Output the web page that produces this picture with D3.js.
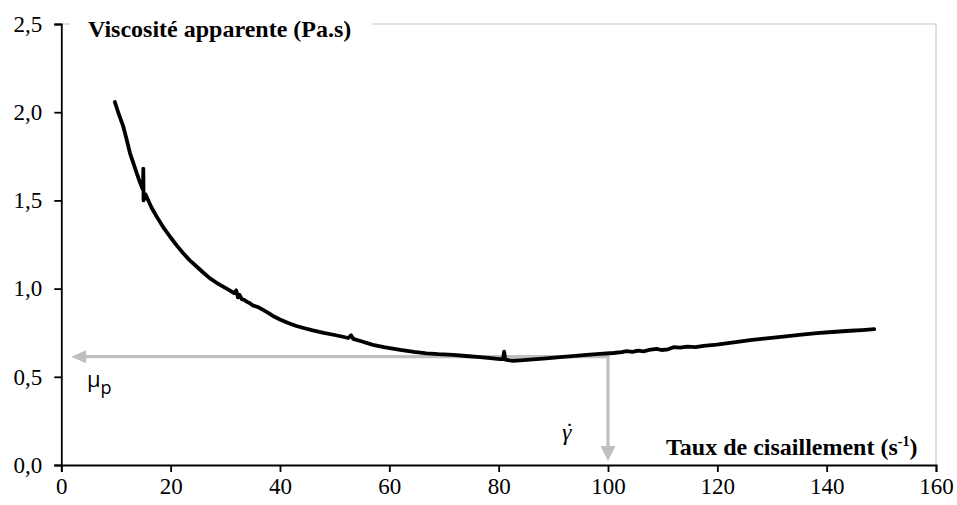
<!DOCTYPE html>
<html>
<head>
<meta charset="utf-8">
<script src="https://cdn.jsdelivr.net/npm/d3@7"></script>
<style>
  html, body { margin: 0; padding: 0; background: #fff; }
  svg { display: block; }
</style>
</head>
<body>
<svg id="chart" width="957" height="505"></svg>
<script>
// ---- Data ----
const shearRate = [9.8, 10.5, 11.35, 12.0, 12.57, 13.2, 13.8, 14.3, 14.7, 14.95, 15.0, 15.05, 15.15, 15.4, 15.6,
  16.5, 17.45, 18.6, 19.9, 21.1, 22.3, 23.5, 24.8, 26.0, 27.2, 28.4, 29.6, 30.8, 31.6, 32.0, 32.3, 32.6, 33.0,
  33.5, 34.0, 34.5, 35.0, 35.5, 36.0, 36.9, 38.0, 39.0, 40.0, 41.5, 43.0, 44.5, 46.0, 48.0, 50.0, 51.5, 52.5,
  53.0, 53.4, 55.0, 57.0, 59.0, 62.0, 64.5, 66.8, 69.0, 71.7, 74.0, 76.6, 78.5, 80.2, 80.8, 81.0, 81.2, 82.0,
  82.7, 84.5, 86.3, 88.7, 91.2, 93.5, 96.1, 98.5, 101.0, 102.5, 103.4, 104.5, 105.5, 106.5, 107.5, 108.9,
  109.8, 111.0, 112.0, 113.2, 114.5, 116.0, 117.5, 119.9, 123.0, 126.0, 129.0, 132.1, 135.0, 138.2, 141.0,
  144.3, 146.5, 148.7];
const viscosity = [2.058, 1.99, 1.918, 1.84, 1.767, 1.71, 1.654, 1.61, 1.578, 1.56, 1.68, 1.50, 1.52, 1.535, 1.521,
  1.46, 1.408, 1.35, 1.294, 1.245, 1.2, 1.16, 1.124, 1.09, 1.058, 1.033, 1.011, 0.99, 0.975, 0.99, 0.95, 0.965, 0.94,
  0.935, 0.925, 0.917, 0.905, 0.9, 0.895, 0.879, 0.86, 0.84, 0.825, 0.805, 0.788, 0.775, 0.763, 0.749, 0.737, 0.727, 0.72,
  0.735, 0.715, 0.700, 0.681, 0.668, 0.652, 0.641, 0.633, 0.628, 0.624, 0.618, 0.611, 0.606, 0.600, 0.600, 0.642, 0.598, 0.593,
  0.591, 0.595, 0.599, 0.605, 0.611, 0.617, 0.624, 0.630, 0.635, 0.64, 0.645, 0.641, 0.648, 0.644, 0.652, 0.658,
  0.652, 0.656, 0.668, 0.665, 0.671, 0.668, 0.675, 0.682, 0.695, 0.708, 0.718, 0.728, 0.738, 0.747, 0.754,
  0.761, 0.765, 0.770];

const xTicks = [0, 20, 40, 60, 80, 100, 120, 140, 160];
const yTicks = [0.0, 0.5, 1.0, 1.5, 2.0, 2.5];

const muP = 0.614;          // plastic viscosity marker
const gammaDotRef = 100;    // shear rate marker
const hArrowTipX = 1.8;     // horizontal arrow tip (x value)
const vArrowTipY = 0.022;   // vertical arrow tip (y value)

const yTitle = "Viscosité apparente (Pa.s)";
const xTitleMain = "Taux de cisaillement (s";
const xTitleSup = "-1";

// ---- Layout ----
const SERIF = '"Liberation Serif", "Times New Roman", "DejaVu Serif", serif';
const SANS = '"Open Sans", "DejaVu Sans", sans-serif';
const svg = d3.select("#chart");
const mLeft = 61.3, mRight = 936, mTop = 24, mBottom = 465;

const x = d3.scaleLinear().domain([0, 160]).range([mLeft, mRight]);
const y = d3.scaleLinear().domain([0, 2.5]).range([mBottom, mTop]);

const fr = d3.formatLocale({decimal: ",", thousands: " ", grouping: [3], currency: ["", "€"]});
const fmtY = fr.format(".1f");

// plot area border (light gray, top & right)
svg.append("path")
  .attr("d", `M${mLeft},${mTop}H${mRight}V${mBottom}`)
  .attr("fill", "none").attr("stroke", "#d9d9d9").attr("stroke-width", 1.6);

// title background and title
svg.append("rect").attr("x", 70).attr("y", 8).attr("width", 302).attr("height", 34).attr("fill", "#fff");
svg.append("text")
  .style("font-family", SERIF)
  .attr("x", 88).attr("y", 37)
  .attr("font-weight", "bold").attr("font-size", 24)
  .attr("fill", "#000")
  .text(yTitle);

// axes
const xAxis = svg.append("g").attr("transform", `translate(0,${mBottom})`)
  .call(d3.axisBottom(x).tickValues(xTicks).tickFormat(d3.format("d")).tickSizeOuter(0).tickSize(7).tickPadding(6));
const yAxis = svg.append("g").attr("transform", `translate(${mLeft},0)`)
  .call(d3.axisLeft(y).tickValues(yTicks).tickFormat(fmtY).tickSizeOuter(0).tickSize(7).tickPadding(12));

[xAxis, yAxis].forEach(g => {
  g.attr("font-family", null).attr("font-size", null);
  g.select(".domain").attr("stroke", "#000").attr("stroke-width", 1.8);
  g.selectAll(".tick line").attr("stroke", "#000").attr("stroke-width", 1.8);
  g.selectAll(".tick text").style("font-family", SERIF).style("font-size", "23px").attr("fill", "#000");
});

// x axis title
const xt = svg.append("text")
  .style("font-family", SERIF)
  .attr("x", 666).attr("y", 455)
  .attr("font-weight", "bold").attr("font-size", 24).attr("fill", "#000");
xt.append("tspan").text(xTitleMain);
xt.append("tspan").attr("font-size", 14).attr("dy", -9).text(xTitleSup);
xt.append("tspan").attr("dy", 9).text(")");

// gray marker arrows
const gray = "#bfbfbf";
svg.append("line")
  .attr("x1", x(gammaDotRef)).attr("y1", y(muP))
  .attr("x2", x(hArrowTipX) + 13).attr("y2", y(muP))
  .attr("stroke", gray).attr("stroke-width", 3.2);
svg.append("path")
  .attr("d", `M${x(hArrowTipX)},${y(muP)} L${x(hArrowTipX) + 15},${y(muP) - 6.5} L${x(hArrowTipX) + 15},${y(muP) + 6.5}Z`)
  .attr("fill", gray);
svg.append("line")
  .attr("x1", x(gammaDotRef)).attr("y1", y(muP) - 1.6)
  .attr("x2", x(gammaDotRef)).attr("y2", y(vArrowTipY) - 13)
  .attr("stroke", gray).attr("stroke-width", 3.2);
svg.append("path")
  .attr("d", `M${x(gammaDotRef)},${y(vArrowTipY)} L${x(gammaDotRef) - 7.5},${y(vArrowTipY) - 15} L${x(gammaDotRef) + 7.5},${y(vArrowTipY) - 15}Z`)
  .attr("fill", gray);

// curve
const pts = shearRate.map((s, i) => [s, viscosity[i]]);
svg.append("path")
  .datum(pts)
  .attr("d", d3.line().x(d => x(d[0])).y(d => y(d[1])))
  .attr("fill", "none").attr("stroke", "#000").attr("stroke-width", 3.8)
  .attr("stroke-linejoin", "round").attr("stroke-linecap", "round");

// annotations
const mu = svg.append("text")
  .style("font-family", SANS)
  .attr("x", 87).attr("y", 387)
  .attr("font-size", 22).attr("fill", "#000");
mu.append("tspan").text("μ");
mu.append("tspan").attr("dy", 7).attr("font-size", 18).text("p");

const g = svg.append("text")
  .style("font-family", SERIF)
  .attr("x", 562).attr("y", 440)
  .attr("font-size", 24).attr("fill", "#000");
g.append("tspan").attr("font-style", "italic").text("γ");
g.append("tspan").attr("dx", -6).attr("dy", -1).text("˙");
</script>
</body>
</html>
